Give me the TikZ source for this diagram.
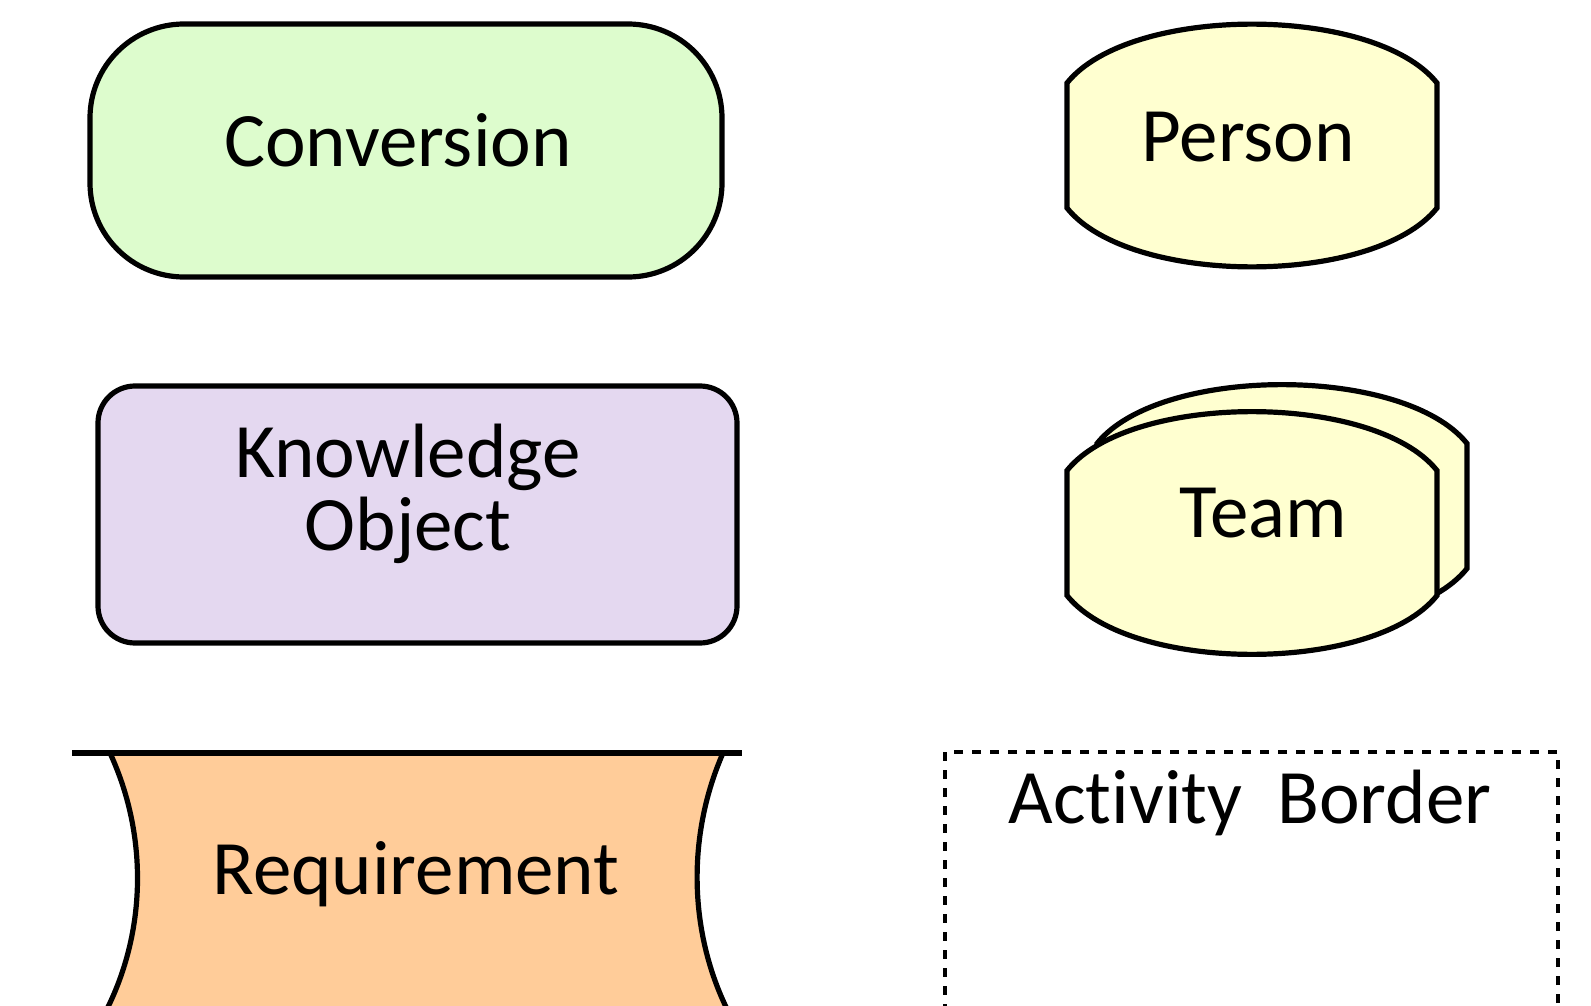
\documentclass[tikz,border=0pt]{standalone}
\usepackage{fontspec}
\setmainfont{Carlito}[Ligatures=NoCommon]
\usetikzlibrary{positioning}

\definecolor{convfill}{RGB}{221,252,205}
\definecolor{personfill}{RGB}{255,255,208}
\definecolor{knowfill}{RGB}{228,216,240}
\definecolor{reqfill}{RGB}{255,204,153}

\tikzset{
  lbl/.style={font=\fontsize{38.5}{36.5}\selectfont,inner sep=0pt,anchor=base},
  pics/actor/.style={code={
    \draw[line width=2.6pt,fill=personfill] (-185,-62.5) -- (-185,62.5)
      .. controls (-122,141) and (122,141) .. (185,62.5) -- (185,-62.5)
      .. controls (122,-141) and (-122,-141) .. (-185,-62.5) -- cycle;
  }}
}

\begin{document}
\begin{tikzpicture}[x=0.5pt,y=-0.5pt]
  \useasboundingbox (0,0) rectangle (1591,1006);
  \clip (0,0) rectangle (1591,1006);
  \begin{scope}[line width=2.6pt]
  % left column
  \draw[fill=convfill,rounded corners=47pt] (90,24) rectangle (722,277);
  \draw[fill=knowfill,rounded corners=18.5pt] (98,386) rectangle (737,643);
  \begin{scope}[overlay]
  \fill[reqfill] (110,753) .. controls (147,833) and (147,927) .. (108,1007)
    -- (108,1012) -- (726,1012) -- (726,1007)
    .. controls (688,927) and (688,833) .. (723,753) -- cycle;
  \draw (110,753) .. controls (147,833) and (147,927) .. (108,1007) -- (106,1012);
  \draw (723,753) .. controls (688,833) and (688,927) .. (726,1007) -- (728,1012);
  \end{scope}
  \draw (72,753) -- (742,753);
  % right column
  \pic at (1252,145.5) {actor};
  \pic at (1282,506) {actor};
  \pic at (1252,533) {actor};
  \end{scope}
  \draw[overlay,line width=1.8pt,dash pattern=on 4.5pt off 4.5pt] (945,752) rectangle (1558,1030);

  \node[lbl] (conv) at (398,167) {Conversion};
  \node[lbl,align=center] (know) at (408,550) {Knowledge\\Object};
  \node[lbl] (req) at (416,894) {Requirement};
  \node[lbl] (person) at (1248,162) {Person};
  \node[lbl] (team) at (1263,537) {Team};
  \node[lbl] (border) at (1250,823) {Activity\ \ Border};
\end{tikzpicture}
\end{document}
